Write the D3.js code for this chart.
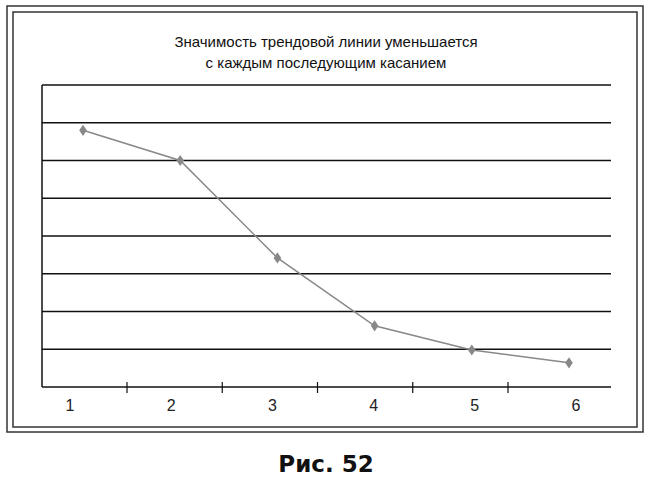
<!DOCTYPE html>
<html><head><meta charset="utf-8">
<script src="https://cdn.jsdelivr.net/npm/d3@7"></script>
<style>body{margin:0;background:#fff}</style></head>
<body><svg id="c" width="650" height="486"></svg>
<script>
const categories = ["1","2","3","4","5","6"];
const values = [6.8, 6.0, 3.42, 1.62, 0.98, 0.64];
const gridTicks = [0,1,2,3,4,5,6,7,8];
const titleLines = ["Значимость трендовой линии уменьшается","с каждым последующим касанием"];
const caption = "Рис. 52";

(function(){
const svg = d3.select("#c");
svg.append("rect").attr("x",7).attr("y",6).attr("width",636).attr("height",426).attr("fill","none").attr("stroke","#333").attr("stroke-width",1.5);
svg.append("rect").attr("x",13).attr("y",12).attr("width",624).attr("height",415).attr("fill","none").attr("stroke","#333").attr("stroke-width",1.5);

const pL=42,pR=611,pT=85,pB=387;
const y = d3.scaleLinear().domain([0,8]).range([pB,pT]);
const xPt = d3.scalePoint().domain(categories).range([83,569]);
const xLab = d3.scalePoint().domain(categories).range([70,576]);
const xTick = d3.scaleLinear().domain([1,5]).range([127,508]);

svg.append("g").selectAll("line").data(gridTicks).join("line")
 .attr("x1",pL).attr("x2",pR).attr("y1",d=>y(d)).attr("y2",d=>y(d))
 .attr("stroke","#111").attr("stroke-width",1.5);
svg.append("line").attr("x1",pL).attr("x2",pL).attr("y1",pT).attr("y2",pB).attr("stroke","#111").attr("stroke-width",1.5);
svg.append("g").selectAll("line").data([1,2,3,4,5]).join("line")
 .attr("x1",d=>xTick(d)).attr("x2",d=>xTick(d)).attr("y1",pB-5).attr("y2",pB+6)
 .attr("stroke","#111").attr("stroke-width",1.2);
svg.append("g").selectAll("text").data(categories).join("text")
 .attr("x",d=>xLab(d)).attr("y",411).attr("text-anchor","middle")
 .attr("font-family","Liberation Sans, Arial, sans-serif").attr("font-size",16).attr("fill","#222").text(d=>d);

const line = d3.line().x((d,i)=>xPt(categories[i])).y(d=>y(d));
svg.append("path").attr("d",line(values)).attr("fill","none").attr("stroke","#888").attr("stroke-width",1.5);
svg.append("g").selectAll("path").data(values).join("path")
 .attr("d",d3.symbol(d3.symbolDiamond,50))
 .attr("transform",(d,i)=>`translate(${xPt(categories[i])},${y(d)}) scale(1,0.85)`)
 .attr("fill","#888");

svg.append("g").selectAll("text").data(titleLines).join("text")
 .attr("x",326).attr("y",(d,i)=>47+i*21).attr("text-anchor","middle")
 .attr("font-family","Liberation Sans, Arial, sans-serif").attr("font-size",15).attr("fill","#111").text(d=>d);
svg.append("text").attr("x",326).attr("y",472).attr("text-anchor","middle")
 .attr("font-family","DejaVu Sans, sans-serif").attr("font-weight","bold").attr("font-size",23).attr("fill","#111").text(caption);
})();
</script></body></html>
